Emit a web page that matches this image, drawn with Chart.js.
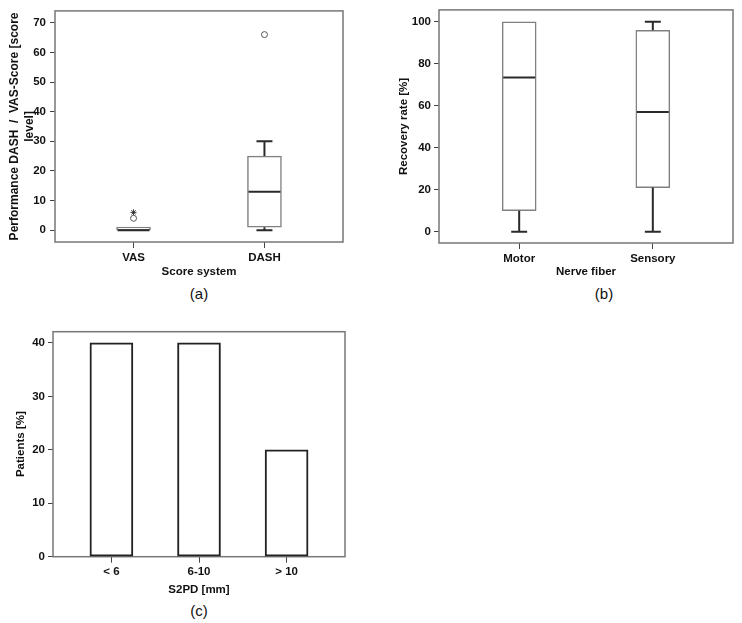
<!DOCTYPE html>
<html>
<head>
<meta charset="utf-8">
<script src="https://cdn.jsdelivr.net/npm/chart.js@4.4.1/dist/chart.umd.min.js"></script>
<style>
    html, body { margin: 0; padding: 0; background: #fff; }
    #page { position: relative; width: 742px; height: 623px; overflow: hidden; font-family: "Liberation Sans", Arial, sans-serif; }
    canvas { position: absolute; }
    .tag { position: absolute; font-size: 15px; color: #111; transform: translate(-50%, -50%); white-space: nowrap; }
</style>
</head>
<body>
<div id="page">
    <canvas id="chartA" width="371" height="282" style="left:0;top:0"></canvas>
    <canvas id="chartB" width="371" height="282" style="left:371px;top:0"></canvas>
    <canvas id="chartC" width="371" height="290" style="left:0;top:310px"></canvas>
    <div class="tag" style="left:199px;top:293px">(a)</div>
    <div class="tag" style="left:604px;top:293px">(b)</div>
    <div class="tag" style="left:199px;top:610px">(c)</div>
</div>
<script>
// (a) score system
const scoreLabels = ['VAS', 'DASH'];
const scoreMin = [0, 0];
const scoreQ1 = [0, 1];
const scoreMedian = [0, 13];
const scoreQ3 = [1, 25];
const scoreMax = [1, 30];
const scoreOutlierIdx = [0, 1];
const scoreOutlierVal = [4, 66];
const scoreExtremeIdx = [0];
const scoreExtremeVal = [6];
const scoreTicks = [0, 10, 20, 30, 40, 50, 60, 70];

// (b) nerve fiber
const nerveLabels = ['Motor', 'Sensory'];
const nerveMin = [0, 0];
const nerveQ1 = [10, 21];
const nerveMedian = [73.5, 57];
const nerveQ3 = [100, 96];
const nerveMax = [100, 100];
const nerveTicks = [0, 20, 40, 60, 80, 100];

// (c) S2PD
const s2pdLabels = ['< 6', '6-10', '> 10'];
const s2pdPatients = [40, 40, 20];
const s2pdTicks = [0, 10, 20, 30, 40];

Chart.defaults.font.family = '"Liberation Sans", Arial, sans-serif';
Chart.defaults.color = '#111';
Chart.defaults.animation = false;

const boldFont = { size: 11.5, weight: 'bold' };

const framePlugin = {
    id: 'frame',
    beforeDatasetsDraw(chart) {
        const a = chart.chartArea;
        const ctx = chart.ctx;
        ctx.save();
        ctx.strokeStyle = '#777';
        ctx.lineWidth = 1.5;
        ctx.strokeRect(a.left, a.top, a.right - a.left, a.bottom - a.top);
        ctx.restore();
    }
};

// medians and whiskers, positioned with the chart scales
const whiskerPlugin = {
    id: 'whisker',
    afterDatasetsDraw(chart, args, opts) {
        if (!opts || !opts.median) return;
        const ctx = chart.ctx;
        const x = chart.scales.x;
        const y = chart.scales.y;
        const bars = chart.getDatasetMeta(0).data;
        ctx.save();
        ctx.strokeStyle = '#2a2a2a';
        ctx.lineWidth = 2;
        opts.median.forEach((m, i) => {
            const cx = x.getPixelForValue(i);
            const half = bars[i].width / 2;
            const cap = half * 0.47;
            ctx.beginPath();
            ctx.moveTo(cx - half + 1, y.getPixelForValue(m));
            ctx.lineTo(cx + half - 1, y.getPixelForValue(m));
            ctx.stroke();
            if (opts.max[i] > opts.q3[i]) {
                ctx.beginPath();
                ctx.moveTo(cx, y.getPixelForValue(opts.q3[i]));
                ctx.lineTo(cx, y.getPixelForValue(opts.max[i]));
                ctx.moveTo(cx - cap, y.getPixelForValue(opts.max[i]));
                ctx.lineTo(cx + cap, y.getPixelForValue(opts.max[i]));
                ctx.stroke();
            }
            if (opts.min[i] < opts.q1[i]) {
                ctx.beginPath();
                ctx.moveTo(cx, y.getPixelForValue(opts.q1[i]));
                ctx.lineTo(cx, y.getPixelForValue(opts.min[i]));
                ctx.moveTo(cx - cap, y.getPixelForValue(opts.min[i]));
                ctx.lineTo(cx + cap, y.getPixelForValue(opts.min[i]));
                ctx.stroke();
            }
        });
        ctx.restore();
    }
};

function catAxis(labels, min, max, height, tickPad, title, titlePad) {
    return {
        type: 'linear',
        min: min,
        max: max,
        offset: false,
        afterBuildTicks: (s) => { s.ticks = labels.map((_, i) => ({ value: i })); },
        afterFit: (s) => { s.height = height; },
        ticks: {
            callback: (v) => labels[v],
            padding: tickPad,
            font: boldFont,
            color: '#111',
            maxRotation: 0,
            autoSkip: false
        },
        grid: { offset: false, drawOnChartArea: false, tickLength: 6, color: '#444', lineWidth: 1 },
        border: { display: false },
        title: { display: true, text: title, font: boldFont, color: '#111', padding: { top: 0, bottom: titlePad } }
    };
}

function valueAxis(tickValues, min, max, width, tickPad, title, titleFont, titlePad) {
    return {
        type: 'linear',
        min: min,
        max: max,
        afterBuildTicks: (s) => { s.ticks = tickValues.map(v => ({ value: v })); },
        afterFit: (s) => { s.width = width; },
        ticks: { padding: tickPad, font: boldFont, color: '#111' },
        grid: { drawOnChartArea: false, tickLength: 5, color: '#444', lineWidth: 1 },
        border: { display: false },
        title: { display: true, text: title, font: titleFont, color: '#111', padding: { top: titlePad, bottom: 0 } }
    };
}

// (a)
new Chart(document.getElementById('chartA'), {
    type: 'bar',
    data: {
        datasets: [
            {
                type: 'bar',
                data: scoreLabels.map((_, i) => ({ x: i, y: [scoreQ1[i], scoreQ3[i]] })),
                backgroundColor: '#fff',
                borderColor: '#808080',
                borderWidth: 1.5,
                borderSkipped: false,
                barThickness: 34
            },
            {
                type: 'scatter',
                data: scoreOutlierIdx.map((x, i) => ({ x: x, y: scoreOutlierVal[i] })),
                pointStyle: 'circle',
                pointRadius: 3,
                pointBackgroundColor: '#fff',
                pointBorderColor: '#555',
                pointBorderWidth: 1
            },
            {
                type: 'scatter',
                data: scoreExtremeIdx.map((x, i) => ({ x: x, y: scoreExtremeVal[i] })),
                pointStyle: 'star',
                pointRadius: 3,
                pointBorderColor: '#333',
                pointBorderWidth: 1
            }
        ]
    },
    options: {
        responsive: false,
        layout: { padding: { left: 0, top: 9, right: 28, bottom: 0 } },
        scales: {
            x: catAxis(scoreLabels, -0.6, 1.6, 40, 3, 'Score system', 3.4),
            y: valueAxis(scoreTicks, -4, 74, 55, 4,
                ['Performance DASH  /  VAS-Score [score', 'level]'],
                { size: 12, weight: 'bold', lineHeight: 1.25 }, 7.5)
        },
        plugins: {
            legend: { display: false },
            tooltip: { enabled: false },
            whisker: { min: scoreMin, q1: scoreQ1, median: scoreMedian, q3: scoreQ3, max: scoreMax }
        }
    },
    plugins: [framePlugin, whiskerPlugin]
});

// (b)
new Chart(document.getElementById('chartB'), {
    type: 'bar',
    data: {
        datasets: [
            {
                type: 'bar',
                data: nerveLabels.map((_, i) => ({ x: i, y: [nerveQ1[i], nerveQ3[i]] })),
                backgroundColor: '#fff',
                borderColor: '#808080',
                borderWidth: 1.5,
                borderSkipped: false,
                barThickness: 34
            }
        ]
    },
    options: {
        responsive: false,
        layout: { padding: { left: 0, top: 9, right: 9, bottom: 0 } },
        scales: {
            x: catAxis(nerveLabels, -0.6, 1.6, 39, 3, 'Nerve fiber', 3.4),
            y: valueAxis(nerveTicks, -5.4, 105.7, 68, 3, 'Recovery rate [%]', boldFont, 26.2)
        },
        plugins: {
            legend: { display: false },
            tooltip: { enabled: false },
            whisker: { min: nerveMin, q1: nerveQ1, median: nerveMedian, q3: nerveQ3, max: nerveMax }
        }
    },
    plugins: [framePlugin, whiskerPlugin]
});

// (c)
new Chart(document.getElementById('chartC'), {
    type: 'bar',
    data: {
        datasets: [
            {
                data: s2pdLabels.map((_, i) => ({ x: i, y: s2pdPatients[i] })),
                backgroundColor: '#fff',
                borderColor: '#222',
                borderWidth: 2,
                borderSkipped: false,
                barThickness: 43
            }
        ]
    },
    options: {
        responsive: false,
        layout: { padding: { left: 0, top: 21.7, right: 26, bottom: 0 } },
        scales: {
            x: catAxis(s2pdLabels, -0.667, 2.667, 43.3, 2.3, 'S2PD [mm]', 3.4),
            y: valueAxis(s2pdTicks, 0, 42.1, 53, 3, 'Patients [%]', boldFont, 13.9)
        },
        plugins: {
            legend: { display: false },
            tooltip: { enabled: false }
        }
    },
    plugins: [framePlugin]
});
</script>
</body>
</html>
